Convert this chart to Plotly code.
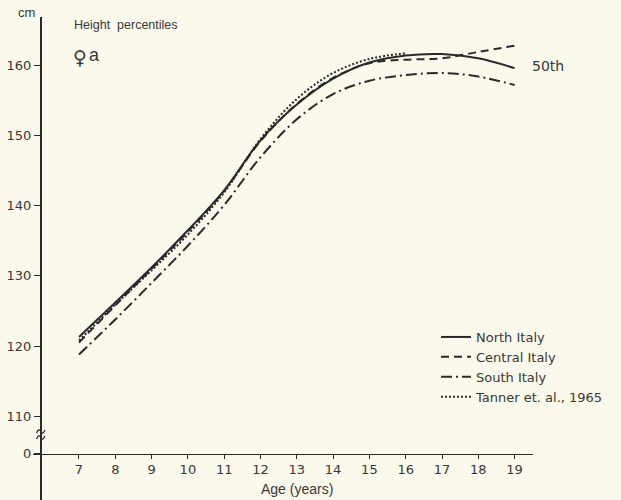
import plotly.graph_objects as go

# ---- data ----
ages = [7, 8, 9, 10, 11, 12, 13, 14, 15, 16, 17, 18, 19]
north_italy = [121.3, 126.2, 131.2, 136.5, 142.2, 149.3, 154.4, 158.1, 160.4, 161.4, 161.6, 161.0, 159.6]
central_italy = [120.5, 125.8, 131.0, 136.3, 142.1, 149.2, 154.5, 158.2, 160.3, 160.8, 161.0, 161.9, 162.8]
south_italy = [118.8, 123.8, 129.0, 134.3, 140.1, 146.9, 152.3, 155.9, 157.8, 158.6, 158.9, 158.4, 157.2]
tanner_ages = [7, 8, 9, 10, 11, 12, 13, 14, 15, 16]
tanner_1965 = [120.8, 125.9, 130.8, 135.9, 141.9, 149.5, 155.2, 158.9, 160.9, 161.7]

y_tick_labels = ["0", "110", "120", "130", "140", "150", "160"]
y_tick_values = [104.66, 110, 120, 130, 140, 150, 160]   # 104.66 = position of the broken-axis zero
x_tick_values = ages

# ---- layout geometry ----
W, H = 621, 500
L, R, T, B = 33, 533, 17, 500          # plot area in pixels
X0, X1 = 5.733, 19.507                 # x range
Y0, Y1 = 98.08, 166.88                 # y range

BG = "#fbf8ec"
INK = "#2a2a2a"
TXT = "#383838"
FONT = "Liberation Sans, Arial, sans-serif"
WIDE = "DejaVu Sans, sans-serif"


def px_x(px):
    return X0 + (px - L) / (R - L) * (X1 - X0)


def px_y(py):
    return Y1 - (py - T) / (B - T) * (Y1 - Y0)


def paper_x(px):
    return (px - L) / (R - L)


def paper_y(py):
    return (B - py) / (B - T)


fig = go.Figure()

line_w = 2.0
sm = 1.0
fig.add_trace(go.Scatter(x=ages, y=north_italy, mode="lines", name="North Italy",
                         line=dict(color=INK, width=line_w, shape="spline", smoothing=sm)))
fig.add_trace(go.Scatter(x=ages, y=central_italy, mode="lines", name="Central Italy",
                         line=dict(color=INK, width=line_w, shape="spline", smoothing=sm,
                                   dash="8px,5px")))
fig.add_trace(go.Scatter(x=ages, y=south_italy, mode="lines", name="South Italy",
                         line=dict(color=INK, width=line_w, shape="spline", smoothing=sm,
                                   dash="11px,4px,2px,4px")))
fig.add_trace(go.Scatter(x=tanner_ages, y=tanner_1965, mode="lines", name="Tanner et. al., 1965",
                         line=dict(color=INK, width=line_w, shape="spline", smoothing=sm,
                                   dash="2px,2px")))

x_axis_pos = paper_y(453.5)
y_axis_pos = paper_x(40.7)

fig.update_layout(
    width=W, height=H,
    margin=dict(l=L, r=W - R, t=T, b=H - B, pad=0),
    paper_bgcolor=BG, plot_bgcolor=BG,
    font=dict(family=FONT, color=TXT, size=14),
    showlegend=True,
    legend=dict(x=paper_x(436), y=paper_y(322), xanchor="left", yanchor="top",
                bgcolor="rgba(0,0,0,0)", font=dict(size=13, color=TXT, family=WIDE),
                tracegroupgap=0, itemwidth=30),
    xaxis=dict(range=[X0, X1], anchor="free", position=x_axis_pos,
               showgrid=False, zeroline=False, showline=True, linecolor=INK, linewidth=1.3,
               tickvals=x_tick_values, ticks="outside", ticklen=4, tickwidth=1.2, tickcolor=INK,
               tickfont=dict(size=13, color=TXT, family=WIDE)),
    xaxis2=dict(range=[X0, X1], matches="x", overlaying="x", anchor="free", position=x_axis_pos,
                showgrid=False, zeroline=False, showline=False, showticklabels=False,
                tickvals=x_tick_values, ticks="inside", ticklen=4, tickwidth=1.2, tickcolor=INK),
    yaxis=dict(range=[Y0, Y1], anchor="free", position=y_axis_pos,
               showgrid=False, zeroline=False, showline=True, linecolor=INK, linewidth=1.5,
               tickvals=y_tick_values, ticktext=y_tick_labels,
               ticks="outside", ticklen=6, tickwidth=1.2, tickcolor=INK,
               tickfont=dict(size=13, color=TXT, family=WIDE)),
)

# axis break marks on the y axis
bx0, bx1 = px_x(36.5), px_x(45)
for yy in (431.5, 437.5):
    ya, yb = px_y(yy + 1.5), px_y(yy - 1.5)
    ym = px_y(yy)
    fig.add_shape(type="path", xref="x", yref="y",
                  path=f"M {bx0},{ya} Q {px_x(39)},{px_y(yy - 4)} {px_x(40.7)},{ym} "
                       f"T {bx1},{yb}",
                  line=dict(color=INK, width=1.3))

# text annotations
ann = [
    dict(text="cm", x=paper_x(26), y=paper_y(12), size=13, xanchor="center", family=FONT),
    dict(text="Height  percentiles", x=paper_x(72), y=paper_y(25), size=12.5, xanchor="left", family=FONT),
    dict(text="♀", x=paper_x(71), y=paper_y(57), size=19, xanchor="left", family=WIDE),
    dict(text="a", x=paper_x(87), y=paper_y(55), size=18, xanchor="left", family=FONT),
    dict(text="50th", x=paper_x(530), y=paper_y(66), size=14, xanchor="left", family=WIDE),
    dict(text="Age (years)", x=paper_x(297), y=paper_y(489), size=14, xanchor="center", family=FONT),
]
for a in ann:
    fig.add_annotation(text=a["text"], x=a["x"], y=a["y"], xref="paper", yref="paper",
                       xanchor=a["xanchor"], yanchor="middle", showarrow=False,
                       font=dict(size=a["size"], color=TXT, family=a["family"]))

fig.write_html("out.html", config={"displayModeBar": False},
               post_script="document.body.style.margin='0';")
